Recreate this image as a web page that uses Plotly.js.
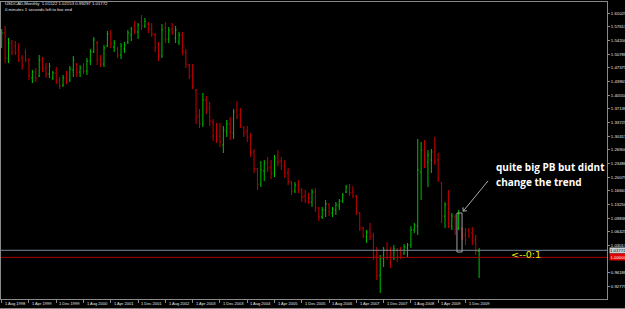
<!DOCTYPE html>
<html><head><meta charset="utf-8">
<script src="https://cdn.plot.ly/plotly-3.0.1.min.js"></script>
<style>html,body{margin:0;padding:0;background:#000;}#chart{width:625px;height:309px;}</style>
</head><body><div id="chart"></div>
<script>
// USDCAD monthly bars, Aug 1998 .. Apr 2010 (one value per month)
const openP = [1.5335,1.5610,1.4985,1.5360,1.5285,1.5185,1.4985,1.5135,1.4935,1.4485,
1.4635,1.4535,1.4935,1.4735,1.4585,1.4485,1.4610,1.4435,1.4310,1.4485,
1.4435,1.4685,1.4835,1.4635,1.4760,1.4660,1.4910,1.5135,1.5360,1.4960,
1.4835,1.5285,1.5585,1.5260,1.5210,1.5060,1.5210,1.5385,1.5560,1.5785,
1.5635,1.5885,1.5785,1.5835,1.5710,1.5560,1.5260,1.5035,1.5735,1.5460,
1.5710,1.5485,1.5385,1.5560,1.5135,1.4810,1.4535,1.4185,1.3535,1.3335,
1.3935,1.3735,1.3385,1.3110,1.3035,1.2810,1.3135,1.3335,1.3110,1.3685,
1.3585,1.3260,1.3160,1.3010,1.2635,1.2210,1.1835,1.2160,1.2385,1.2260,
1.2110,1.2510,1.2410,1.2285,1.2110,1.1885,1.1660,1.1810,1.1685,1.1535,
1.1485,1.1385,1.1635,1.1235,1.1010,1.1185,1.1310,1.1110,1.1185,1.1285,
1.1410,1.1635,1.1760,1.1635,1.1535,1.1110,1.0735,1.0510,1.0685,1.0535,
1.0035,0.9560,0.9985,1.0185,1.0035,0.9985,1.0185,1.0135,1.0110,1.0235,
1.0310,1.0685,1.0785,1.2135,1.2685,1.2385,1.2435,1.2635,1.2435,1.1860,
1.1035,1.1335,1.0785,1.1010,1.0735,1.0710,1.0560,1.0660,1.0610,1.0435,
1.0152];
const highP = [1.5710,1.5785,1.5485,1.5435,1.5410,1.5360,1.5060,1.5210,1.4985,1.4685,
1.4735,1.5060,1.5010,1.4860,1.4860,1.4660,1.4760,1.4510,1.4560,1.4660,
1.4785,1.5035,1.4860,1.4810,1.4860,1.4985,1.5210,1.5510,1.5410,1.5060,
1.5310,1.5660,1.5685,1.5435,1.5260,1.5360,1.5385,1.5685,1.5760,1.5910,
1.5860,1.6060,1.5985,1.5885,1.5860,1.5610,1.5385,1.5835,1.5885,1.5760,
1.5860,1.5785,1.5635,1.5635,1.5210,1.4835,1.4835,1.4210,1.3710,1.4110,
1.4035,1.3885,1.3460,1.3360,1.3360,1.3285,1.3435,1.3510,1.3710,1.3910,
1.3735,1.3285,1.3285,1.3110,1.2710,1.2235,1.2410,1.2435,1.2510,1.2435,
1.2560,1.2685,1.2510,1.2435,1.2235,1.1910,1.1885,1.1935,1.1735,1.1685,
1.1610,1.1710,1.1735,1.1260,1.1260,1.1435,1.1360,1.1260,1.1385,1.1460,
1.1610,1.1810,1.1835,1.1785,1.1560,1.1135,1.0760,1.0685,1.0860,1.0610,
1.0260,1.0060,1.0260,1.0385,1.0260,1.0310,1.0235,1.0260,1.0335,1.0360,
1.0785,1.0860,1.2960,1.2885,1.2935,1.2685,1.2710,1.3010,1.2610,1.1885,
1.1385,1.1685,1.1110,1.1085,1.1185,1.0760,1.0735,1.0735,1.0760,1.0560,
1.0235];
const lowP = [1.5235,1.4860,1.4860,1.5060,1.5060,1.4885,1.4685,1.4885,1.4435,1.4360,
1.4385,1.4510,1.4635,1.4485,1.4485,1.4435,1.4335,1.4210,1.4260,1.4335,
1.4385,1.4510,1.4510,1.4510,1.4585,1.4560,1.4810,1.5110,1.4810,1.4760,
1.4760,1.5260,1.5235,1.5135,1.4985,1.4960,1.5110,1.5335,1.5410,1.5585,
1.5460,1.5685,1.5735,1.5610,1.5510,1.5135,1.4910,1.4985,1.5360,1.5360,
1.5560,1.5360,1.5310,1.5060,1.4735,1.4460,1.4210,1.3335,1.3235,1.3260,
1.3585,1.3285,1.2910,1.2860,1.2760,1.2610,1.3010,1.2935,1.2960,1.3460,
1.3235,1.3010,1.2885,1.2510,1.2110,1.1685,1.1760,1.1910,1.2135,1.1960,
1.2010,1.2285,1.2185,1.1985,1.1810,1.1560,1.1610,1.1610,1.1385,1.1360,
1.1335,1.1260,1.1135,1.0910,1.0960,1.1010,1.1035,1.1010,1.1060,1.1185,
1.1360,1.1610,1.1535,1.1485,1.1060,1.0660,1.0485,1.0360,1.0435,0.9935,
0.9435,0.9110,0.9760,0.9935,0.9735,0.9935,0.9885,0.9960,1.0060,1.0010,
1.0235,1.0610,1.0560,1.1435,1.2235,1.1760,1.2110,1.2310,1.1885,1.0860,
1.0735,1.0735,1.0685,1.0560,1.0685,1.0435,1.0310,1.0485,1.0310,1.0060,
0.9485];
const closeP = [1.5610,1.4985,1.5360,1.5135,1.5110,1.4935,1.4785,1.4935,1.4535,1.4635,
1.4485,1.4935,1.4735,1.4585,1.4785,1.4610,1.4435,1.4285,1.4485,1.4385,
1.4710,1.4935,1.4635,1.4735,1.4660,1.4910,1.5135,1.5435,1.4935,1.4835,
1.5235,1.5585,1.5335,1.5360,1.5060,1.5285,1.5310,1.5610,1.5710,1.5660,
1.5810,1.5785,1.5910,1.5710,1.5585,1.5235,1.5035,1.5685,1.5460,1.5685,
1.5635,1.5685,1.5560,1.5135,1.4835,1.4535,1.4260,1.3485,1.3335,1.3935,
1.3685,1.3410,1.3035,1.2935,1.2885,1.3185,1.3335,1.3135,1.3635,1.3535,
1.3310,1.3110,1.3010,1.2635,1.2210,1.1810,1.2185,1.2360,1.2235,1.2085,
1.2485,1.2385,1.2285,1.2110,1.1885,1.1660,1.1810,1.1685,1.1510,1.1435,
1.1385,1.1635,1.1235,1.1010,1.1185,1.1335,1.1135,1.1210,1.1310,1.1410,
1.1560,1.1760,1.1610,1.1535,1.1135,1.0735,1.0535,1.0635,1.0535,1.0035,
0.9535,0.9985,1.0185,1.0010,0.9885,1.0210,1.0010,1.0035,1.0260,1.0310,
1.0685,1.0810,1.2185,1.2685,1.2435,1.2560,1.2635,1.2385,1.1985,1.1035,
1.1310,1.0835,1.1035,1.0710,1.1085,1.0535,1.0435,1.0535,1.0435,1.0160,
1.0177];

// time axis labels: one every 8 bars starting at the first bar
const dateLabels = ["1 Aug 1998","1 Apr 1999","1 Dec 1999","1 Aug 2000","1 Apr 2001","1 Dec 2001",
"1 Aug 2002","1 Apr 2003","1 Dec 2003","1 Aug 2004","1 Apr 2005","1 Dec 2005","1 Aug 2006",
"1 Apr 2007","1 Dec 2007","1 Aug 2008","1 Apr 2009","1 Dec 2009"];
const dateTickBars = [0,8,16,24,32,40,48,56,64,72,80,88,96,104,112,120,128,136];

// price scale labels (the one hidden under the red level box is omitted)
const priceLabels = ["1.61025","1.57613","1.54200","1.50788","1.47375","1.43963","1.40550","1.37138",
"1.33725","1.30313","1.26900","1.23488","1.20075","1.16663","1.13250","1.09838","1.06425",
"1.03013","0.96188","0.92775","0.89363"];

const symbolHeader = "USDCAD,Monthly  1.01522 1.02153 0.99297 1.01772";
const timerLine = "0 minutes 1 seconds left to bar end";
const bidPrice = 1.01772;
const levelPrice = 1.00000;
const noteLines = ["quite big PB but didnt", "change the trend"];
const timerTag = "<--0:1";

const xIdx = openP.map((_, i) => i);

const trace = {
  type: 'ohlc', x: xIdx, open: openP, high: highP, low: lowP, close: closeP,
  increasing: {line: {color: '#00c000', width: 1}},
  decreasing: {line: {color: '#c80000', width: 1}},
  tickwidth: 0.3, hoverinfo: 'skip', showlegend: false
};

const tiny = {family: 'Liberation Sans, Arial, sans-serif', size: 4.3, color: '#e6e6e6'};

// date labels drawn left-aligned just right of each tick, below the plot
const dateAnnotations = dateLabels.map((t, k) => ({
  xref: 'x', yref: 'paper', x: dateTickBars[k] + 0.35, y: -0.0165,
  xanchor: 'left', yanchor: 'middle', text: t, showarrow: false,
  font: {family: tiny.family, size: 4.0, color: '#e6e6e6'}
}));

const layout = {
  width: 625, height: 309,
  margin: {l: 1, r: 18, t: 2, b: 10, pad: 0},
  paper_bgcolor: '#000000', plot_bgcolor: '#000000',
  showlegend: false, hovermode: false, dragmode: false,
  xaxis: {
    range: [-0.2, 177.5], rangeslider: {visible: false},
    showgrid: false, zeroline: false,
    showline: true, mirror: true, linecolor: '#8a8a8a', linewidth: 1,
    tickmode: 'array', tickvals: dateTickBars, ticktext: dateLabels,
    ticks: 'outside', ticklen: 3, tickcolor: '#8a8a8a', tickwidth: 1,
    showticklabels: false
  },
  yaxis: {
    side: 'right', range: [0.8960, 1.6385], fixedrange: true,
    showgrid: false, zeroline: false,
    showline: true, mirror: true, linecolor: '#8a8a8a', linewidth: 1,
    tickmode: 'array', tickvals: priceLabels.map(Number), ticktext: priceLabels,
    ticks: 'outside', ticklen: 2, tickcolor: '#8a8a8a', tickwidth: 1,
    tickfont: tiny
  },
  shapes: [
    {type: 'line', xref: 'paper', x0: 0, x1: 1, yref: 'y', y0: bidPrice, y1: bidPrice,
     line: {color: '#778899', width: 1}},
    {type: 'line', xref: 'paper', x0: 0, x1: 1, yref: 'y', y0: levelPrice, y1: levelPrice,
     line: {color: '#a80000', width: 1}},
    {type: 'rect', xref: 'x', yref: 'y', x0: 133.5, x1: 135.0, y0: 1.0135, y1: 1.1110,
     line: {color: '#a0a0a0', width: 1}},
    {type: 'rect', xref: 'paper', yref: 'paper', x0: -0.01, x1: 1.05, y0: -0.036, y1: -0.031,
     fillcolor: '#b0b0b0', line: {width: 0}}
  ],
  annotations: [
    {xref: 'paper', yref: 'paper', x: 0.0033, y: 0.9933, xanchor: 'left', yanchor: 'middle',
     text: symbolHeader, showarrow: false, font: tiny},
    {xref: 'paper', yref: 'paper', x: 0.0033, y: 0.9748, xanchor: 'left', yanchor: 'middle',
     text: timerLine, showarrow: false, font: tiny},
    {xref: 'x', yref: 'y', x: 144.4, y: 1.2248, xanchor: 'left', yanchor: 'middle',
     text: noteLines[0], showarrow: false,
     font: {family: 'Open Sans, sans-serif', size: 10, color: '#ffffff', weight: 'bold'}},
    {xref: 'x', yref: 'y', x: 144.4, y: 1.1873, xanchor: 'left', yanchor: 'middle',
     text: noteLines[1], showarrow: false,
     font: {family: 'Open Sans, sans-serif', size: 10, color: '#ffffff', weight: 'bold'}},
    {xref: 'x', yref: 'y', x: 135.2, y: 1.1143, axref: 'x', ayref: 'y', ax: 143.0, ay: 1.1952,
     text: '', showarrow: true, arrowhead: 4, arrowsize: 1, arrowwidth: 1, arrowcolor: '#a8a8a8'},
    {xref: 'x', yref: 'y', x: 148.8, y: 1.0085, xanchor: 'left', yanchor: 'middle',
     text: timerTag.replace('<', '&lt;'), showarrow: false,
     font: {family: 'DejaVu Sans, sans-serif', size: 9.5, color: '#f0f000'}},
    {xref: 'paper', yref: 'y', x: 1.003, y: bidPrice, xanchor: 'left', yanchor: 'middle',
     text: bidPrice.toFixed(5), showarrow: false, bgcolor: '#c8d0d8', borderpad: 0,
     font: {family: tiny.family, size: 4.3, color: '#000000'}},
    {xref: 'paper', yref: 'y', x: 1.003, y: levelPrice, xanchor: 'left', yanchor: 'middle',
     text: levelPrice.toFixed(5), showarrow: false, bgcolor: '#e00000', borderpad: 0.5,
     font: {family: tiny.family, size: 4.3, color: '#ffffff'}}
  ].concat(dateAnnotations)
};

Plotly.newPlot('chart', [trace], layout, {staticPlot: true, displayModeBar: false});
</script>
</body></html>
